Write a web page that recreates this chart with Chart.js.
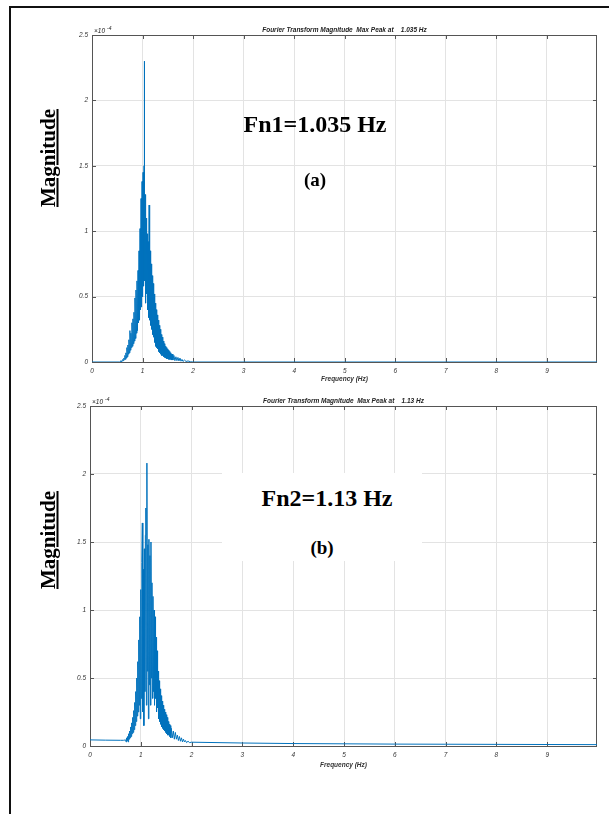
<!DOCTYPE html>
<html>
<head>
<meta charset="utf-8">
<script src="https://cdn.jsdelivr.net/npm/chart.js@4.4.0/dist/chart.umd.min.js"></script>
<style>
body{margin:0;background:#fff;width:609px;height:814px;overflow:hidden;position:relative;font-family:"Liberation Serif",serif}
#frame{position:absolute;left:9px;top:6px;width:640px;height:840px;border-left:2px solid #111;border-top:2px solid #111}
.plot{position:absolute}
.note{position:absolute;font-weight:bold;color:#000;white-space:nowrap;transform:translateX(-50%);line-height:1}
.ylab{position:absolute;font-weight:bold;font-size:21px;text-decoration:underline;transform:translate(-50%,-50%) rotate(-90deg);white-space:nowrap}
#patch{position:absolute;left:222px;top:473px;width:200px;height:88px;background:#fff}
</style>
</head>
<body>
<div id="frame"></div>
<div class="plot" style="left:40px;top:18px;width:569px;height:372px"><canvas id="fft1"></canvas></div>
<div class="plot" style="left:40px;top:388px;width:569px;height:390px"><canvas id="fft2"></canvas></div>
<div id="patch"></div>
<div class="note" style="left:315px;top:112px;font-size:24px">Fn1=1.035 Hz</div>
<div class="note" style="left:315px;top:170px;font-size:19px">(a)</div>
<div class="note" style="left:327px;top:486px;font-size:24px">Fn2=1.13 Hz</div>
<div class="note" style="left:322px;top:538px;font-size:19px">(b)</div>
<div class="ylab" style="left:48px;top:158px">Magnitude</div>
<div class="ylab" style="left:48px;top:540px">Magnitude</div>
<script>
// magnitudes are in units of 1e-4 (axis multiplier shown as x10^-4)
var yTicks = [0, 0.5, 1, 1.5, 2, 2.5];
var xTicks = [0, 1, 2, 3, 4, 5, 6, 7, 8, 9];

var freq1 = [0, 0.55, 0.56, 0.57, 0.58, 0.59,
  0.60, 0.61, 0.62, 0.63, 0.64, 0.65, 0.66, 0.67, 0.68, 0.69,
  0.70, 0.71, 0.72, 0.73, 0.74, 0.75, 0.76, 0.77, 0.78, 0.79,
  0.80, 0.81, 0.82, 0.83, 0.84, 0.85, 0.86, 0.87, 0.88, 0.89,
  0.90, 0.91, 0.92, 0.93, 0.94, 0.95, 0.96, 0.97, 0.98, 0.99,
  1.00, 1.01, 1.02, 1.03, 1.035, 1.04, 1.05, 1.06, 1.07, 1.08, 1.09,
  1.10, 1.11, 1.12, 1.13, 1.14, 1.15, 1.16, 1.17, 1.18, 1.19,
  1.20, 1.21, 1.22, 1.23, 1.24, 1.25, 1.26, 1.27, 1.28, 1.29,
  1.30, 1.31, 1.32, 1.33, 1.34, 1.35, 1.36, 1.37, 1.38, 1.39,
  1.40, 1.41, 1.42, 1.43, 1.44, 1.45, 1.46, 1.47, 1.48, 1.49,
  1.50, 1.51, 1.52, 1.53, 1.54, 1.55, 1.56, 1.57, 1.58, 1.59,
  1.60, 1.62, 1.64, 1.66, 1.68, 1.70, 1.72, 1.74, 1.76, 1.78,
  1.80, 1.83, 1.86, 1.90, 1.95, 2.00, 10];
var mag1 = [0, 0, 0, 0.01, 0, 0.01,
  0.01, 0.02, 0.01, 0.03, 0.02, 0.05, 0.02, 0.07, 0.03, 0.11,
  0.04, 0.13, 0.06, 0.17, 0.07, 0.24, 0.09, 0.22, 0.11, 0.30,
  0.12, 0.33, 0.14, 0.38, 0.16, 0.49, 0.18, 0.55, 0.22, 0.62,
  0.24, 0.70, 0.30, 0.85, 0.32, 1.02, 0.40, 1.25, 0.42, 1.38,
  0.50, 1.45, 0.58, 1.50, 2.30, 0.62, 1.28, 0.45, 1.10, 0.52, 0.98,
  0.40, 0.92, 0.34, 1.20, 0.32, 0.85, 0.28, 0.75, 0.25, 0.66,
  0.21, 0.60, 0.19, 0.52, 0.15, 0.45, 0.12, 0.40, 0.11, 0.36,
  0.10, 0.32, 0.08, 0.28, 0.07, 0.25, 0.06, 0.21, 0.05, 0.19,
  0.05, 0.16, 0.04, 0.14, 0.035, 0.12, 0.03, 0.11, 0.025, 0.10,
  0.025, 0.09, 0.02, 0.08, 0.02, 0.07, 0.02, 0.06, 0.015, 0.06,
  0.015, 0.05, 0.01, 0.04, 0.01, 0.035, 0.008, 0.03, 0.006, 0.02,
  0.004, 0.015, 0.004, 0.008, 0.002, 0, 0];

var freq2 = [0, 0.3, 0.6, 0.66, 0.70,
  0.71, 0.72, 0.73, 0.74, 0.75, 0.76, 0.77, 0.78, 0.79,
  0.80, 0.81, 0.82, 0.83, 0.84, 0.85, 0.86, 0.87, 0.88, 0.89,
  0.90, 0.91, 0.92, 0.93, 0.94, 0.95, 0.96, 0.97, 0.98, 0.99,
  1.00, 1.01, 1.02, 1.03, 1.04, 1.05, 1.06, 1.07, 1.08, 1.09,
  1.10, 1.11, 1.12, 1.13, 1.14, 1.15, 1.16, 1.17, 1.18, 1.19,
  1.20, 1.21, 1.22, 1.23, 1.24, 1.25, 1.26, 1.27, 1.28, 1.29,
  1.30, 1.31, 1.32, 1.33, 1.34, 1.35, 1.36, 1.37, 1.38, 1.39,
  1.40, 1.41, 1.42, 1.43, 1.44, 1.45, 1.46, 1.47, 1.48, 1.49,
  1.50, 1.51, 1.52, 1.53, 1.54, 1.55, 1.56, 1.57, 1.58, 1.59,
  1.60, 1.62, 1.64, 1.66, 1.68, 1.70, 1.72, 1.74, 1.76, 1.78,
  1.80, 1.82, 1.84, 1.86, 1.88, 1.90, 1.93, 1.96, 2.00,
  3, 4, 5, 6, 7, 8, 9, 10];
var mag2 = [0.045, 0.043, 0.042, 0.042, 0.045,
  0.03, 0.06, 0.04, 0.07, 0.03, 0.09, 0.05, 0.11, 0.06,
  0.14, 0.07, 0.17, 0.09, 0.21, 0.10, 0.26, 0.12, 0.32, 0.15,
  0.40, 0.18, 0.50, 0.22, 0.62, 0.25, 0.78, 0.30, 0.95, 0.20,
  1.15, 0.35, 1.35, 1.64, 0.25, 1.30, 0.15, 1.45, 0.40, 1.55,
  1.75, 0.30, 2.08, 0.55, 1.48, 0.20, 1.52, 0.45, 1.40, 0.30,
  1.50, 0.50, 1.20, 0.35, 1.10, 0.40, 1.00, 0.30, 0.95, 0.35,
  0.80, 0.25, 0.70, 0.28, 0.55, 0.20, 0.48, 0.18, 0.42, 0.16,
  0.37, 0.14, 0.33, 0.13, 0.30, 0.12, 0.27, 0.11, 0.25, 0.10,
  0.23, 0.09, 0.21, 0.08, 0.18, 0.08, 0.16, 0.07, 0.15, 0.06,
  0.13, 0.06, 0.11, 0.05, 0.10, 0.05, 0.08, 0.04, 0.07, 0.035,
  0.06, 0.03, 0.05, 0.03, 0.04, 0.025, 0.035, 0.025, 0.028,
  0.022, 0.018, 0.016, 0.014, 0.013, 0.012, 0.011, 0.010];

var tickFont = {family: 'Liberation Sans', size: 6.5, style: 'italic'};

// MATLAB-like axes box, inward ticks, title and exponent label
var matlabAxes = {
    id: 'matlabAxes',
    beforeDatasetsDraw: function(chart) {
        var ctx = chart.ctx, a = chart.chartArea;
        var xs = chart.scales.x, ys = chart.scales.y;
        ctx.save();
        ctx.strokeStyle = '#555';
        ctx.lineWidth = 1;
        ctx.strokeRect(a.left + 0.5, a.top + 0.5, a.right - a.left - 1, a.bottom - a.top);
        ctx.beginPath();
        xTicks.forEach(function(t) {
            var px = Math.round(xs.getPixelForValue(t)) + 0.5;
            ctx.moveTo(px, a.bottom); ctx.lineTo(px, a.bottom - 4);
            ctx.moveTo(px, a.top); ctx.lineTo(px, a.top + 4);
        });
        yTicks.forEach(function(t) {
            var py = Math.round(ys.getPixelForValue(t)) + 0.5;
            ctx.moveTo(a.left, py); ctx.lineTo(a.left + 4, py);
            ctx.moveTo(a.right, py); ctx.lineTo(a.right - 4, py);
        });
        ctx.stroke();
        ctx.restore();
    },
    afterDraw: function(chart) {
        var ctx = chart.ctx, a = chart.chartArea;
        var opts = chart.options.plugins.matlabAxes;
        ctx.save();
        ctx.fillStyle = '#222';
        ctx.font = 'italic bold 6.5px "Liberation Sans"';
        ctx.textAlign = 'center';
        ctx.textBaseline = 'bottom';
        ctx.fillText(opts.title, (a.left + a.right) / 2, a.top - 2);
        ctx.textAlign = 'left';
        ctx.font = 'italic 6.5px "Liberation Sans"';
        ctx.fillText('\u00d710', a.left + 2, a.top - 1);
        ctx.font = 'italic 5px "Liberation Sans"';
        ctx.fillText('-4', a.left + 15, a.top - 4);
        ctx.restore();
    }
};

function makeChart(id, freq, mag, title, xMax, yWidth, pad, xHeight) {
    var pts = freq.map(function(f, i) { return {x: f, y: mag[i]}; });
    return new Chart(document.getElementById(id), {
        type: 'scatter',
        data: {
            datasets: [{
                data: pts,
                showLine: true,
                borderColor: '#0072BD',
                borderWidth: 1,
                pointRadius: 0,
                tension: 0
            }]
        },
        options: {
            responsive: true,
            maintainAspectRatio: false,
            animation: false,
            layout: {padding: pad},
            plugins: {
                legend: {display: false},
                tooltip: {enabled: false},
                matlabAxes: {title: title}
            },
            scales: {
                x: {
                    type: 'linear',
                    min: 0,
                    max: xMax,
                    afterBuildTicks: function(s) { s.ticks = xTicks.map(function(v) { return {value: v}; }); },
                    afterFit: function(s) { s.height = xHeight; },
                    grid: {color: '#e3e3e3', drawTicks: false},
                    border: {display: false},
                    ticks: {font: tickFont, color: '#333', padding: 5, maxRotation: 0},
                    title: {display: true, text: 'Frequency (Hz)', font: {family: 'Liberation Sans', size: 6.5, style: 'italic', weight: 'bold'}, color: '#333', padding: 0}
                },
                y: {
                    min: 0,
                    max: 2.5,
                    afterBuildTicks: function(s) { s.ticks = yTicks.map(function(v) { return {value: v}; }); },
                    afterFit: function(s) { s.width = yWidth; },
                    grid: {color: '#e3e3e3', drawTicks: false},
                    border: {display: false},
                    ticks: {font: tickFont, color: '#333', padding: 4, callback: function(v) { return String(v); }}
                }
            }
        },
        plugins: [matlabAxes]
    });
}

makeChart('fft1', freq1, mag1, 'Fourier Transform Magnitude  Max Peak at    1.035 Hz', 9.99, 52,
    {top: 17, right: 12, bottom: 7, left: 0}, 21);
makeChart('fft2', freq2, mag2, 'Fourier Transform Magnitude  Max Peak at    1.13 Hz', 9.98, 50,
    {top: 18, right: 12, bottom: 9, left: 0}, 23);
</script>
</body>
</html>
